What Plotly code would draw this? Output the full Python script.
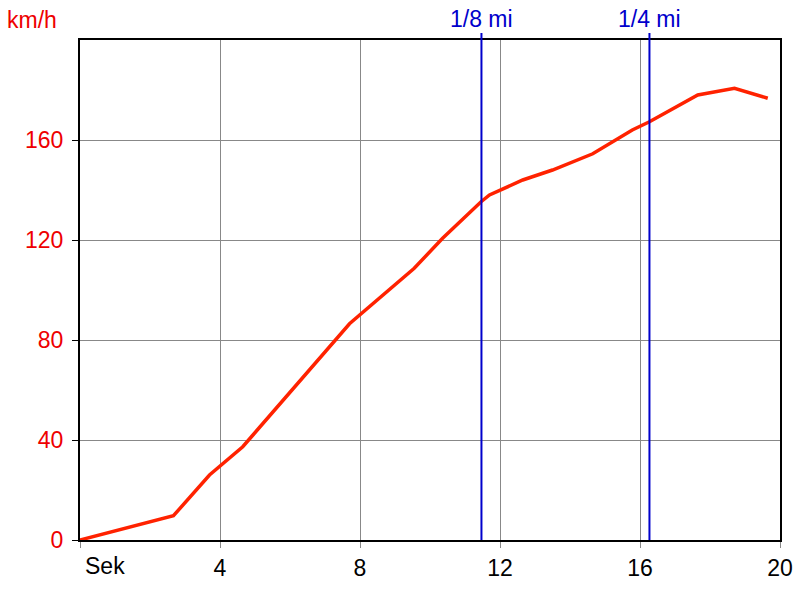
import plotly.graph_objects as go

time_s = [0, 2.67, 3.7, 4.65, 7.7, 8.55, 9.55, 10.36, 11.46, 11.7, 12.65, 13.5, 14.65, 15.78, 16.27, 17.65, 18.7, 19.65]
speed_kmh = [0, 9.7, 26, 37.3, 86.5, 96.7, 108.7, 120.7, 135.3, 138, 144, 148, 154.5, 164, 167.3, 178, 180.7, 176.7]

marker_times = [11.47, 16.27]
marker_labels = ["1/8 mi", "1/4 mi"]

x_ticks = [0, 4, 8, 12, 16, 20]
x_ticktext = ["", "4", "8", "12", "16", "20"]
y_ticks = [0, 40, 80, 120, 160]

FONT = "Liberation Sans, Arial, sans-serif"

fig = go.Figure()
fig.add_trace(go.Scatter(x=time_s, y=speed_kmh, mode="lines",
                         line=dict(color="#ff2200", width=3.5), hoverinfo="skip"))

shapes = []
annotations = []
for t, lab in zip(marker_times, marker_labels):
    shapes.append(dict(type="line", xref="x", yref="paper", x0=t, x1=t, y0=0, y1=1.014,
                       line=dict(color="#0000cc", width=2)))
    annotations.append(dict(x=t, y=1.042, xref="x", yref="paper", text=lab, showarrow=False,
                            xanchor="center", yanchor="middle",
                            font=dict(family=FONT, size=23, color="#0000cc")))

annotations.append(dict(x=-0.107, y=1.04, xref="paper", yref="paper", text="km/h", showarrow=False,
                        xanchor="left", yanchor="middle",
                        font=dict(family=FONT, size=23, color="#ee0000")))
annotations.append(dict(x=0.0, y=-0.022, xref="x", yref="paper", text="Sek", showarrow=False,
                        xanchor="left", yanchor="top", xshift=3,
                        font=dict(family=FONT, size=23, color="black")))

fig.update_layout(
    width=800, height=600,
    margin=dict(l=80, r=20, t=40, b=60, autoexpand=False),
    paper_bgcolor="white", plot_bgcolor="white",
    showlegend=False,
    shapes=shapes, annotations=annotations,
    xaxis=dict(range=[0, 20], tickvals=x_ticks, ticktext=x_ticktext, automargin=False,
               showgrid=True, gridcolor="#888888", gridwidth=1,
               showline=True, linecolor="black", linewidth=2, mirror=True,
               ticks="outside", ticklen=6, tickcolor="#888888",
               tickfont=dict(family=FONT, size=23, color="black"), zeroline=False),
    yaxis=dict(range=[0, 200], tickvals=y_ticks, automargin=False,
               showgrid=True, gridcolor="#888888", gridwidth=1,
               showline=True, linecolor="black", linewidth=2, mirror=True,
               ticks="outside", ticklen=6, tickcolor="black",
               ticklabelstandoff=4,
               tickfont=dict(family=FONT, size=23, color="#ee0000"), zeroline=False),
)

fig.write_html("out.html", config={"displayModeBar": False},
               post_script="document.body.style.margin='0';")
